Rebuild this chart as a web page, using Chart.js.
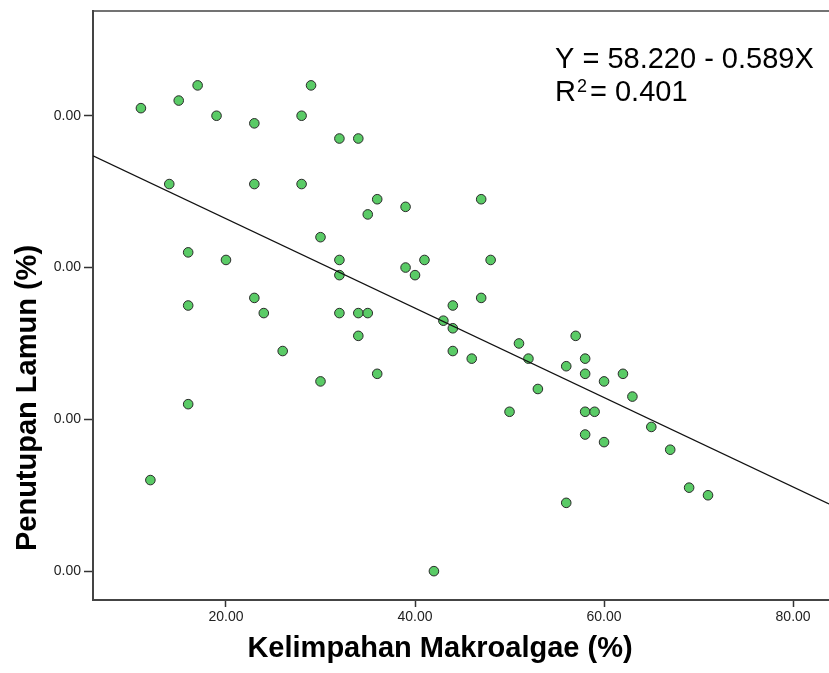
<!DOCTYPE html>
<html>
<head>
<meta charset="utf-8">
<script src="https://cdn.jsdelivr.net/npm/chart.js@4/dist/chart.umd.min.js"></script>
<style>
  html, body { margin: 0; padding: 0; background: #fff; overflow: hidden; }
  canvas { display: block; }
</style>
</head>
<body>
<canvas id="grafik" width="829" height="673"></canvas>
<script>
// data
const makroalgae = [11,15,17,19,23,28,14,23,28,16,20,23,16,24,26,16,12,29,32,34,36,39,35,47,30,32,41,48,39,32,40,47,44,32,34,35,43,44,34,44,46,36,30,51,52,57,56,58,58,62,60,53,63,50,58,59,65,58,60,67,69,71,56,42];
const lamun = [61,62,64,60,59,60,51,51,51,42,41,36,35,34,29,22,12,64,57,57,49,48,47,49,44,41,41,41,40,39,39,36,35,34,34,34,33,32,31,29,28,26,25,30,28,31,27,28,26,26,25,24,23,21,21,21,19,18,17,16,11,10,9,0];
const koefisien = [58.220, -0.589]; // intercept, slope
const xTicks = [20, 40, 60, 80];
const yTicks = [0, 20, 40, 60];
const xRange = [5.93, 83.8];
const yRange = [-3.8, 73.8];

const FONT = "'Liberation Sans', Arial, sans-serif";

const titikData = makroalgae.map((x, i) => ({ x: x, y: lamun[i] }));
const garisData = xRange.map(x => ({ x: x, y: koefisien[0] + koefisien[1] * x }));

// teks judul sumbu, persamaan dan bingkai atas
const teksPlugin = {
  id: 'teks',
  afterDraw(chart) {
    const ctx = chart.ctx;
    const area = chart.chartArea;
    ctx.save();
    ctx.strokeStyle = '#444';
    ctx.lineWidth = 1.5;
    ctx.beginPath();
    ctx.moveTo(area.left, area.top);
    ctx.lineTo(area.right, area.top);
    ctx.stroke();

    ctx.fillStyle = '#000';
    ctx.textBaseline = 'alphabetic';
    ctx.textAlign = 'left';
    ctx.font = '29px ' + FONT;
    ctx.fillText('Y = 58.220 - 0.589X', 555, 68);
    ctx.fillText('R', 555, 101);
    const wR = ctx.measureText('R').width;
    ctx.font = '18px ' + FONT;
    ctx.fillText('2', 555 + wR + 1, 92);
    ctx.font = '29px ' + FONT;
    ctx.fillText('= 0.401', 590, 101);

    ctx.font = 'bold 29px ' + FONT;
    ctx.textAlign = 'center';
    ctx.fillText('Kelimpahan Makroalgae (%)', 440, 657);
    ctx.translate(36, 398);
    ctx.rotate(-Math.PI / 2);
    ctx.fillText('Penutupan Lamun (%)', 0, 0);
    ctx.restore();
  }
};

new Chart(document.getElementById('grafik'), {
  type: 'scatter',
  data: {
    datasets: [
      {
        label: 'Garis regresi',
        type: 'line',
        data: garisData,
        borderColor: '#111',
        borderWidth: 1.3,
        pointRadius: 0,
        fill: false
      },
      {
        label: 'Data',
        data: titikData,
        backgroundColor: '#5acb66',
        borderColor: '#2a2a2a',
        borderWidth: 1,
        pointRadius: 4.8
      }
    ]
  },
  options: {
    responsive: false,
    animation: false,
    layout: { autoPadding: false, padding: { top: 11, right: 0, left: 0, bottom: 0 } },
    plugins: {
      legend: { display: false },
      tooltip: { enabled: false }
    },
    scales: {
      x: {
        type: 'linear',
        min: xRange[0],
        max: xRange[1],
        afterBuildTicks: s => { s.ticks = xTicks.map(v => ({ value: v })); },
        afterFit: s => { s.height = 73; s.paddingRight = 0; s.paddingLeft = 0; },
        grid: { drawOnChartArea: false, color: '#333', tickLength: 7, tickWidth: 1.5 },
        border: { display: true, color: '#444', width: 2 },
        ticks: {
          padding: 2,
          color: '#222',
          font: { family: FONT, size: 14 },
          maxRotation: 0,
          callback: v => v.toFixed(2)
        }
      },
      y: {
        type: 'linear',
        min: yRange[0],
        max: yRange[1],
        afterBuildTicks: s => { s.ticks = yTicks.map(v => ({ value: v })); },
        afterFit: s => { s.width = 93; s.paddingTop = 0; s.paddingBottom = 0; },
        grid: { drawOnChartArea: false, color: '#333', tickLength: 9, tickWidth: 1.5 },
        border: { display: true, color: '#444', width: 2 },
        ticks: {
          padding: 3,
          color: '#222',
          font: { family: FONT, size: 14 },
          callback: () => '0.00'
        }
      }
    }
  },
  plugins: [teksPlugin]
});
</script>
</body>
</html>
